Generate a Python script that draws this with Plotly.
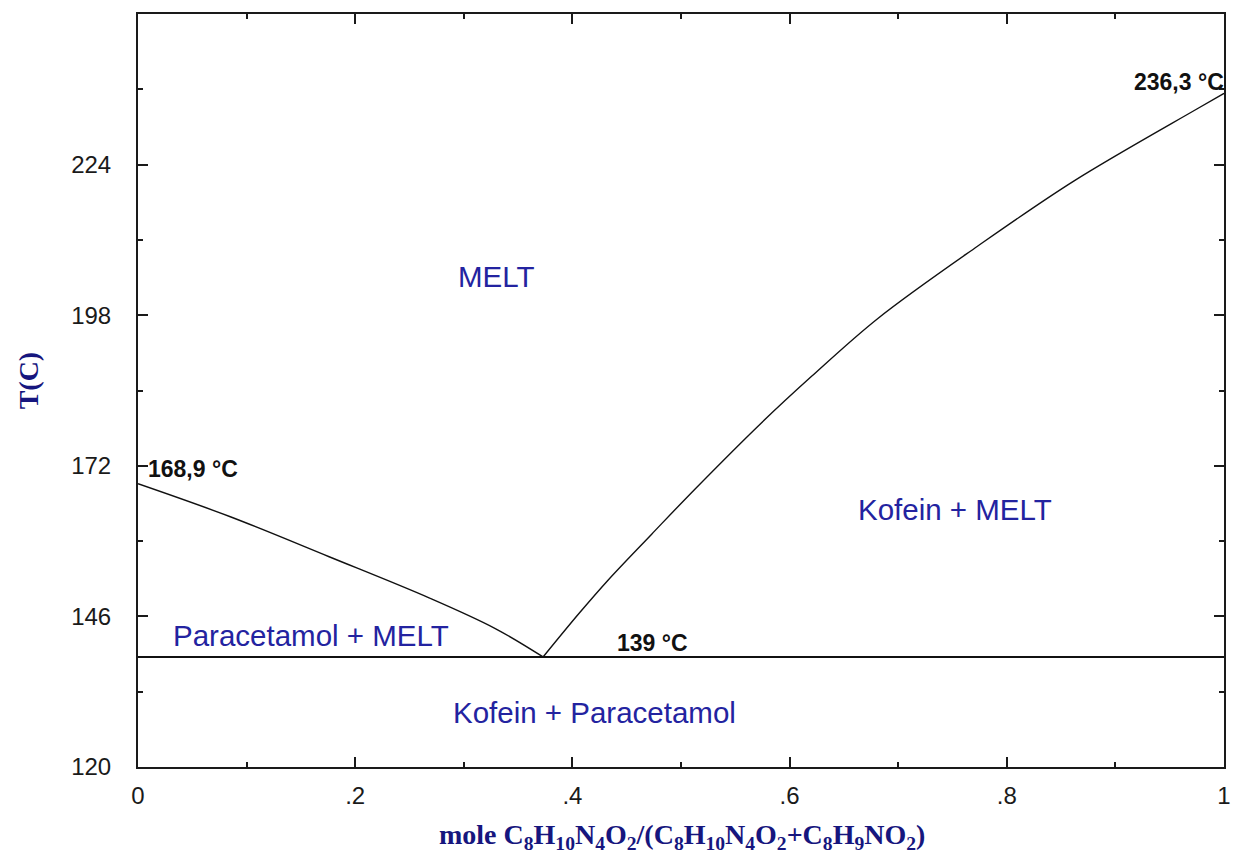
import plotly.graph_objects as go

# Liquidus of paracetamol (left branch), mole fraction of caffeine vs T
para_x = [0.0, 0.085, 0.176, 0.268, 0.329, 0.373]
para_T = [168.9, 163.2, 156.3, 149.2, 143.9, 139.0]

# Liquidus of caffeine (right branch)
kof_x = [0.373, 0.406, 0.433, 0.473, 0.513, 0.574, 0.620, 0.681, 0.773, 0.862, 0.975, 1.0]
kof_T = [139.0, 146.5, 152.3, 160.2, 168.0, 179.4, 187.4, 197.4, 209.9, 221.2, 233.6, 236.3]

# Eutectic line
eut_x = [0.0, 1.0]
eut_T = [139.0, 139.0]

# Axis ticks
x_tickvals = [0, 0.2, 0.4, 0.6, 0.8, 1.0]
x_ticktext = ["0", ".2", ".4", ".6", ".8", "1"]
y_tickvals = [120, 146, 172, 198, 224]

# Phase region labels
region_text = ["MELT", "Kofein + MELT", "Paracetamol + MELT", "Kofein + Paracetamol"]
region_x = [0.33, 0.752, 0.159, 0.42]
region_T = [204.6, 164.5, 142.7, 129.4]

LINE = "#111111"
BLUE = "#2323a0"
NAVY = "#16167e"
SANS = "Arial, Liberation Sans, sans-serif"
SERIF = "Times New Roman, Liberation Serif, serif"

fig = go.Figure()
for xs, ts in [(para_x, para_T), (kof_x, kof_T)]:
    fig.add_trace(go.Scatter(x=xs, y=ts, mode="lines",
                             line=dict(color=LINE, width=1.4, shape="spline", smoothing=1.0),
                             showlegend=False, hoverinfo="skip", cliponaxis=False))
fig.add_trace(go.Scatter(x=eut_x, y=eut_T, mode="lines",
                         line=dict(color=LINE, width=2),
                         showlegend=False, hoverinfo="skip", cliponaxis=False))

for t, x, y in zip(region_text, region_x, region_T):
    fig.add_annotation(x=x, y=y, text=t, showarrow=False,
                       xanchor="center", yanchor="middle",
                       font=dict(family=SANS, size=29.5, color=BLUE))

# Temperature callouts
bold = dict(family=SANS, size=23, color="#111111")
fig.add_annotation(x=para_x[0], y=para_T[0], text="<b>168,9 °C</b>", showarrow=False,
                   xanchor="left", yanchor="middle", xshift=8, yshift=15, font=bold)
fig.add_annotation(x=kof_x[-1], y=kof_T[-1], text="<b>236,3 °C</b>", showarrow=False,
                   xanchor="right", yanchor="middle", xshift=2, yshift=11, font=bold)
fig.add_annotation(x=0.474, y=eut_T[0], text="<b>139 °C</b>", showarrow=False,
                   xanchor="center", yanchor="middle", yshift=14, font=bold)

# Axis titles
fig.add_annotation(xref="paper", yref="paper", x=-0.1, y=0.514, text="<b>T(C)</b>",
                   textangle=-90, showarrow=False, xanchor="center", yanchor="middle",
                   font=dict(family=SERIF, size=28, color=NAVY))
fig.add_annotation(xref="paper", yref="paper", x=0.5005, y=-0.092,
                   text="<b>mole C<sub>8</sub>H<sub>10</sub>N<sub>4</sub>O<sub>2</sub>/"
                        "(C<sub>8</sub>H<sub>10</sub>N<sub>4</sub>O<sub>2</sub>+"
                        "C<sub>8</sub>H<sub>9</sub>NO<sub>2</sub>)</b>",
                   showarrow=False, xanchor="center", yanchor="middle",
                   font=dict(family=SERIF, size=28, color=NAVY))

axis_common = dict(showgrid=False, zeroline=False, showline=True, linewidth=2,
                   linecolor="#1a1a1a", mirror="allticks", ticks="inside",
                   ticklen=10, tickwidth=2, tickcolor="#1a1a1a",
                   tickfont=dict(family=SANS, size=24, color="#1a1a1a"))

fig.update_xaxes(range=[0, 1], tickmode="array", tickvals=x_tickvals, ticktext=x_ticktext,
                 ticklabelstandoff=6,
                 minor=dict(ticks="inside", ticklen=5, tickwidth=2, tickcolor="#1a1a1a",
                            dtick=0.1, showgrid=False),
                 **axis_common)
fig.update_yaxes(range=[120, 250], tickmode="array", tickvals=y_tickvals,
                 ticklabelstandoff=20,
                 minor=dict(ticks="inside", ticklen=5, tickwidth=2, tickcolor="#1a1a1a",
                            tick0=120, dtick=13, showgrid=False),
                 **axis_common)

fig.update_layout(width=1237, height=858,
                  margin=dict(l=138, r=6, t=14, b=91),
                  plot_bgcolor="white", paper_bgcolor="white")

fig.write_html("out.html")
